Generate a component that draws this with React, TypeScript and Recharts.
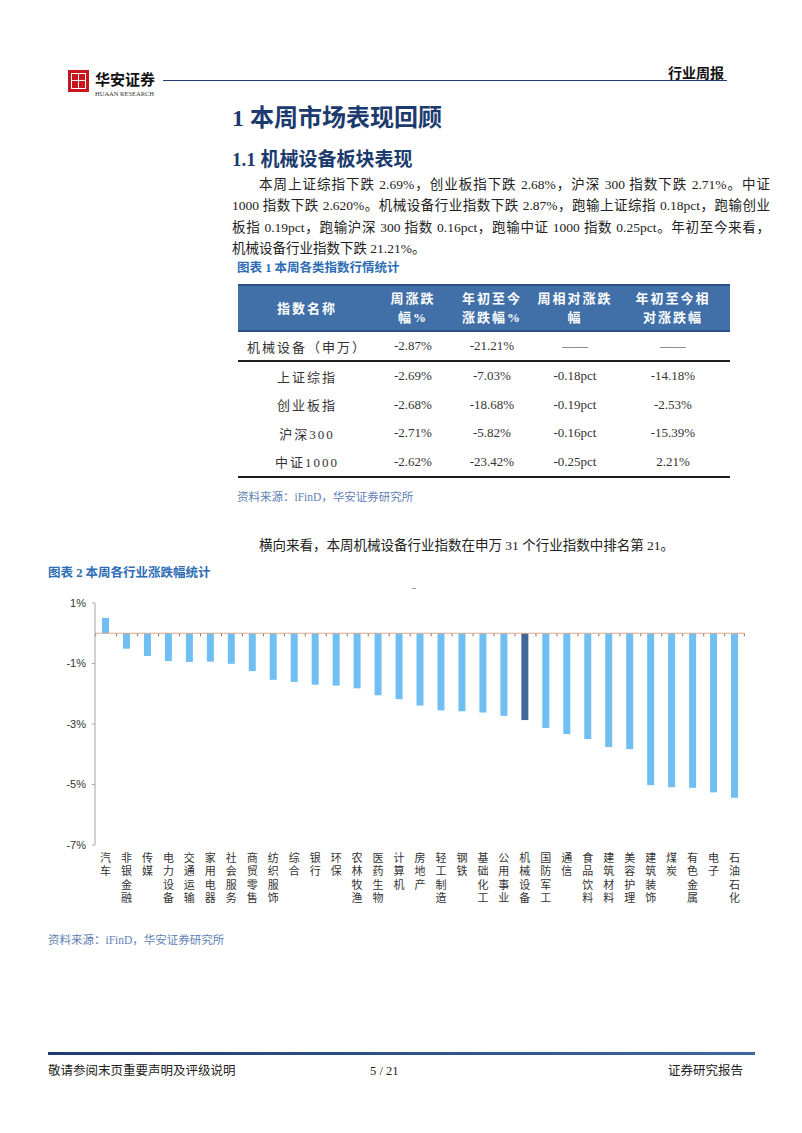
import { BarChart, Bar, XAxis, YAxis, ReferenceLine, Cell } from 'recharts';

// 图表2 数据：申万一级行业本周涨跌幅（%）
const industries = [
  '汽车', '非银金融', '传媒', '电力设备', '交通运输', '家用电器', '社会服务', '商贸零售',
  '纺织服饰', '综合', '银行', '环保', '农林牧渔', '医药生物', '计算机', '房地产',
  '轻工制造', '钢铁', '基础化工', '公用事业', '机械设备', '国防军工', '通信', '食品饮料',
  '建筑材料', '美容护理', '建筑装饰', '煤炭', '有色金属', '电子', '石油石化',
];
const weeklyChange = [
  0.51, -0.51, -0.75, -0.92, -0.95, -0.94, -1.01, -1.25,
  -1.54, -1.61, -1.70, -1.73, -1.82, -2.05, -2.18, -2.39,
  -2.55, -2.58, -2.62, -2.73, -2.87, -3.13, -3.33, -3.50,
  -3.76, -3.83, -5.02, -5.09, -5.11, -5.26, -5.44,
];
const highlight = '机械设备';
const yTicks = [1, -1, -3, -5, -7];

// 图表1 表格
const tableHead = ['指数名称', '周涨跌\n幅%', '年初至今\n涨跌幅%', '周相对涨跌\n幅', '年初至今相\n对涨跌幅'];
const indexNames = ['机械设备（申万）', '上证综指', '创业板指', '沪深300', '中证1000'];
const indexWeek = ['-2.87%', '-2.69%', '-2.68%', '-2.71%', '-2.62%'];
const indexYtd = ['-21.21%', '-7.03%', '-18.68%', '-5.82%', '-23.42%'];
const indexRelWeek = ['——', '-0.18pct', '-0.19pct', '-0.16pct', '-0.25pct'];
const indexRelYtd = ['——', '-14.18%', '-2.53%', '-15.39%', '2.21%'];

const paraLines = [
  '本周上证综指下跌 2.69%，创业板指下跌 2.68%，沪深 300 指数下跌 2.71%。中证',
  '1000 指数下跌 2.620%。机械设备行业指数下跌 2.87%，跑输上证综指 0.18pct，跑输创业',
  '板指 0.19pct，跑输沪深 300 指数 0.16pct，跑输中证 1000 指数 0.25pct。年初至今来看，',
  '机械设备行业指数下跌 21.21%。',
];

const SERIF = '"Liberation Serif", "Noto Sans CJK SC", serif';
const SANS = '"Liberation Sans", Arial, sans-serif';
const NAVY = '#1B3A6D';
const CAPTION = '#2E6DB4';
const SOURCE = '#5F7FB5';

const chartData = industries.map((name, i) => ({ name, value: weeklyChange[i] }));

const PLOT_W = 610;
const BAND = PLOT_W / industries.length;

function Txt({ x, y, size, lh, children, style }: any) {
  const lineH = lh ?? Math.round(size * 1.4);
  return (
    <div
      style={{
        position: 'absolute',
        left: x,
        top: y - lineH / 2,
        fontSize: size,
        lineHeight: `${lineH}px`,
        fontFamily: SERIF,
        whiteSpace: 'nowrap',
        color: '#222',
        ...style,
      }}
    >
      {children}
    </div>
  );
}

// 竖排的行业名称
function VerticalTick({ x, y, payload }: any) {
  return (
    <text
      x={x}
      y={y - 1}
      fontSize={11}
      fill="#333"
      fontFamily='"Noto Sans CJK SC", sans-serif'
      letterSpacing={2.5}
      style={{ writingMode: 'vertical-rl', textOrientation: 'upright' } as any}
    >
      {payload.value}
    </text>
  );
}

function BarWithTick(props: any) {
  const { x, y, width, height, fill, index, value } = props;
  const top = Math.min(y, y + height);
  const h = Math.abs(height);
  const v = Array.isArray(value) ? value[1] : value;
  const zeroY = v < 0 ? top : top + h;
  const cx = x + width / 2;
  return (
    <g>
      <rect x={x} y={top} width={width} height={h} fill={fill} />
      <line x1={cx - BAND / 2} x2={cx - BAND / 2} y1={zeroY} y2={zeroY + 3} stroke="#8a6f5c" strokeWidth={1} />
      {index === industries.length - 1 && (
        <line x1={cx + BAND / 2} x2={cx + BAND / 2} y1={zeroY} y2={zeroY + 3} stroke="#8a6f5c" strokeWidth={1} />
      )}
    </g>
  );
}

function IndustryChart() {
  return (
    <BarChart
      width={740}
      height={345}
      data={chartData}
      margin={{ top: 13, right: 35, bottom: 20, left: 0 }}
      barCategoryGap={0}
    >
      <YAxis
        width={55}
        domain={[-7, 1]}
        ticks={yTicks}
        interval={0}
        tickFormatter={(v: number) => `${v}%`}
        axisLine={{ stroke: '#A6A6A6' }}
        tickLine={{ stroke: '#A6A6A6' }}
        tickSize={3}
        tickMargin={6}
        tick={{ fontSize: 11, fill: '#333', fontFamily: SANS }}
      />
      <XAxis
        dataKey="name"
        interval={0}
        height={70}
        axisLine={false}
        tickLine={false}
        tick={<VerticalTick />}
      />
      <ReferenceLine y={0} stroke="#D6A98A" strokeWidth={1} />
      <Bar dataKey="value" barSize={7} isAnimationActive={false} shape={<BarWithTick />}>
        {chartData.map((d) => (
          <Cell key={d.name} fill={d.name === highlight ? '#41679D' : '#70BFF3'} />
        ))}
      </Bar>
    </BarChart>
  );
}

const colW = [138, 74, 84, 82, 114];

function IndexTable() {
  const rows = indexNames.map((n, i) => [n, indexWeek[i], indexYtd[i], indexRelWeek[i], indexRelYtd[i]]);
  return (
    <div style={{ position: 'absolute', left: 238, top: 284, width: 492, fontFamily: SERIF }}>
      <div
        style={{
          display: 'flex',
          height: 44,
          background: '#4170A9',
          borderTop: '2px solid #2B4E84',
          borderBottom: '2px solid #2B4E84',
        }}
      >
        {tableHead.map((h, i) => (
          <div
            key={h}
            style={{
              width: colW[i],
              display: 'flex',
              alignItems: 'center',
              justifyContent: 'center',
              textAlign: 'center',
              color: '#fff',
              fontWeight: 'bold',
              fontSize: 13,
              letterSpacing: 2,
              lineHeight: '19px',
              whiteSpace: 'pre',
            }}
          >
            {h}
          </div>
        ))}
      </div>
      {rows.map((r, ri) => (
        <div
          key={ri}
          style={{
            display: 'flex',
            height: ri === 0 ? 28 : 28.5,
            borderBottom: ri === 0 || ri === rows.length - 1 ? '2px solid #1e1e1e' : 'none',
          }}
        >
          {r.map((c, ci) => (
            <div
              key={ci}
              style={{
                width: colW[ci],
                display: 'flex',
                alignItems: 'center',
                justifyContent: 'center',
                fontSize: 13,
                color: '#333',
                letterSpacing: ci === 0 ? 2 : 0,
                whiteSpace: 'nowrap',
              }}
            >
              {c}
            </div>
          ))}
        </div>
      ))}
    </div>
  );
}

function Logo() {
  return (
    <>
      <div style={{ position: 'absolute', left: 68, top: 70, width: 21, height: 22, background: '#C7161E' }}>
        <div style={{ position: 'absolute', left: 3, top: 3, width: 13, height: 14, border: '1px solid #fff' }} />
        <div style={{ position: 'absolute', left: 10, top: 3, width: 1, height: 16, background: '#fff' }} />
        <div style={{ position: 'absolute', left: 3, top: 10, width: 15, height: 1, background: '#fff' }} />
      </div>
      <Txt x={95} y={78} size={15} style={{ fontFamily: '"Noto Sans CJK SC"', fontWeight: 'bold', color: '#111' }}>
        华安证券
      </Txt>
      <Txt x={95} y={93} size={6.5} style={{ color: '#333' }}>
        HUAAN RESEARCH
      </Txt>
      <div style={{ position: 'absolute', left: 163, top: 80, width: 564, height: 1, background: '#1F3B70' }} />
      <Txt x={668} y={72} size={14} style={{ fontFamily: '"Noto Sans CJK SC"', fontWeight: 'bold', color: '#111' }}>
        行业周报
      </Txt>
    </>
  );
}

export default function App() {
  return (
    <div
      style={{
        position: 'absolute',
        left: 0,
        top: 0,
        width: 802,
        height: 1133,
        background: '#fff',
        overflow: 'hidden',
      }}
    >
      <Logo />

      <Txt x={232} y={118} size={24} style={{ fontWeight: 'bold', color: NAVY }}>
        1 本周市场表现回顾
      </Txt>
      <Txt x={232} y={159} size={19} style={{ fontWeight: 'bold', color: NAVY }}>
        1.1 机械设备板块表现
      </Txt>

      {paraLines.map((line, i) => (
        <div
          key={i}
          style={{
            position: 'absolute',
            left: i === 0 ? 259 : 232,
            width: i === 0 ? 511 : 538,
            top: 185 + i * 21.3 - 10,
            height: 20,
            lineHeight: '20px',
            fontSize: 13.5,
            fontFamily: SERIF,
            color: '#222',
            textAlign: 'justify',
            textAlignLast: i === paraLines.length - 1 ? 'left' : 'justify',
            whiteSpace: 'nowrap',
          }}
        >
          {line}
        </div>
      ))}

      <Txt x={237} y={268} size={12.5} style={{ fontWeight: 'bold', color: CAPTION }}>
        图表 1 本周各类指数行情统计
      </Txt>
      <IndexTable />
      <Txt x={237} y={497} size={11.5} style={{ color: SOURCE }}>
        资料来源：iFinD，华安证券研究所
      </Txt>

      <Txt x={259} y={545} size={13.5}>
        横向来看，本周机械设备行业指数在申万 31 个行业指数中排名第 21。
      </Txt>
      <Txt x={48} y={573} size={12.5} style={{ fontWeight: 'bold', color: CAPTION }}>
        图表 2 本周各行业涨跌幅统计
      </Txt>

      <div style={{ position: 'absolute', left: 412, top: 588, width: 4, height: 1, background: '#999' }} />
      <div style={{ position: 'absolute', left: 40, top: 590, width: 740, height: 345 }}>
        <IndustryChart />
      </div>

      <Txt x={48} y={940} size={11.5} style={{ color: SOURCE }}>
        资料来源：iFinD，华安证券研究所
      </Txt>

      <div
        style={{
          position: 'absolute',
          left: 48,
          top: 1052,
          width: 707,
          height: 3,
          background: 'linear-gradient(90deg, #1F3B70, #3E67A0)',
        }}
      />
      <Txt x={48} y={1071} size={12.5}>
        敬请参阅末页重要声明及评级说明
      </Txt>
      <Txt x={370} y={1071} size={12.5}>
        5 / 21
      </Txt>
      <Txt x={668} y={1071} size={12.5}>
        证券研究报告
      </Txt>
    </div>
  );
}
